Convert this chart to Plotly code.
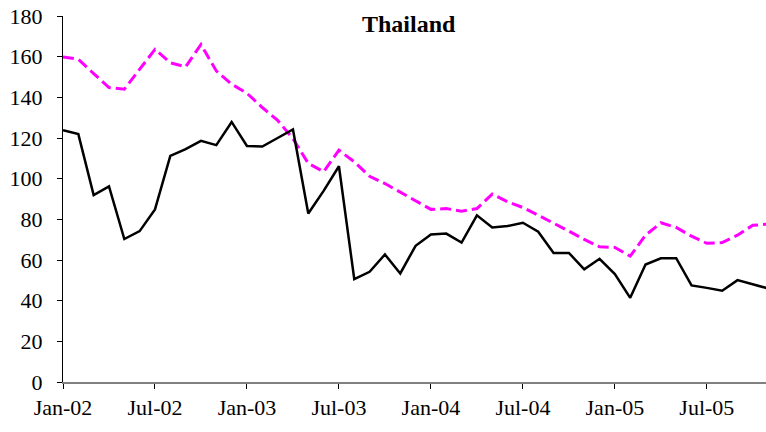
import pandas as pd
import plotly.graph_objects as go

# monthly series, Jan-02 .. Nov-05
months = pd.date_range("2002-01-01", periods=47, freq="MS").strftime("%b-%y").tolist()

black_series = [
    123.8, 121.9, 91.9, 96.2, 70.3, 74.2, 84.9, 111.2, 114.5, 118.6, 116.5, 127.9,
    116.1, 115.8, 120.0, 124.2, 82.9, 94.0, 106.1, 50.6, 54.2, 62.7, 53.4, 67.0,
    72.6, 73.0, 68.6, 82.0, 76.0, 76.7, 78.3, 73.9, 63.5, 63.5, 55.4, 60.6,
    53.1, 41.4, 57.8, 60.8, 60.9, 47.5, 46.3, 44.9, 50.1, 48.0, 46.0,
]
magenta_series = [
    159.9, 158.7, 151.7, 144.8, 144.0, 154.0, 163.6, 157.0, 155.0, 166.0, 153.0, 146.5,
    142.0, 135.0, 128.7, 119.7, 107.5, 103.4, 114.0, 108.3, 101.2, 97.6, 93.5, 89.4,
    84.9, 85.3, 84.0, 85.3, 92.4, 88.6, 85.8, 82.0, 78.3, 74.2, 70.1, 66.5,
    66.2, 61.9, 72.2, 78.3, 76.0, 71.7, 68.2, 68.6, 72.2, 77.1, 77.6,
]
tick_labels = ["Jan-02", "Jul-02", "Jan-03", "Jul-03", "Jan-04", "Jul-04", "Jan-05", "Jul-05"]

serif = "Liberation Serif, Times New Roman, serif"

fig = go.Figure()
fig.add_trace(go.Scatter(
    x=months, y=magenta_series, mode="lines",
    line=dict(color="#FF00FF", width=3, dash="11px,5px"),
))
fig.add_trace(go.Scatter(
    x=months, y=black_series, mode="lines",
    line=dict(color="black", width=2.5),
))

fig.update_layout(
    width=766, height=432,
    margin=dict(l=63, r=0, t=16, b=50),
    plot_bgcolor="white", paper_bgcolor="white",
    showlegend=False,
    font=dict(family=serif, size=22, color="black"),
    annotations=[dict(
        text="<b>Thailand</b>", xref="paper", yref="paper",
        x=(409 - 63) / 703, y=1 - (24 - 16) / 366,
        xanchor="center", yanchor="middle",
        showarrow=False, font=dict(family=serif, size=24, color="black"),
    )],
)

fig.update_xaxes(
    type="category", categoryorder="array", categoryarray=months,
    range=[0, 703 / 15.33],
    tickmode="array", tickvals=tick_labels, ticktext=tick_labels,
    showgrid=False, showline=True, linecolor="#808080", linewidth=1.5,
    ticks="outside", ticklen=5, tickcolor="black", tickwidth=1,
    tickfont=dict(family=serif, size=22), ticklabelstandoff=0,
    zeroline=False, automargin=False,
)
fig.update_yaxes(
    range=[0, 180], tickvals=list(range(0, 181, 20)),
    showgrid=False, showline=True, linecolor="black", linewidth=1,
    ticks="outside", ticklen=5, tickcolor="black",
    tickfont=dict(family=serif, size=22), ticklabelstandoff=10,
    zeroline=False, automargin=False,
)

# drop the browser's default 8px body margin so the figure sits at the page corner
fig.write_html(
    "out.html",
    config={"displayModeBar": False},
    post_script="document.body.style.margin = '0';",
)
